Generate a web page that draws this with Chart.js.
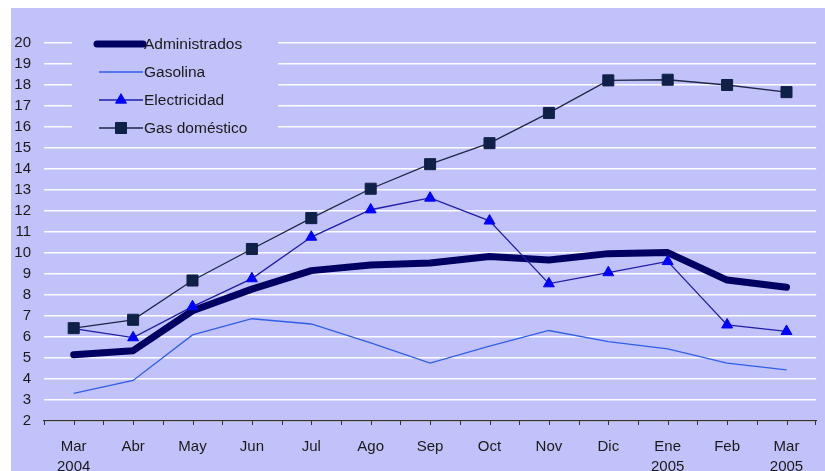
<!DOCTYPE html>
<html>
<head>
<meta charset="utf-8">
<script src="https://cdn.jsdelivr.net/npm/chart.js@4"></script>
<style>
  body { margin: 0; background: #ffffff; }
  .chartWrapper {
    position: absolute;
    left: 11px;
    top: 8px;
    width: 814px;
    height: 463px;
    background: rgb(194, 194, 250);
  }
</style>
</head>
<body>
<div class="chartWrapper">
  <canvas id="myChart" width="814" height="463"></canvas>
</div>
<script>
const months = ['Mar', 'Abr', 'May', 'Jun', 'Jul', 'Ago', 'Sep', 'Oct', 'Nov', 'Dic', 'Ene', 'Feb', 'Mar'];
const years = ['2004', '', '', '', '', '', '', '', '', '', '2005', '', '2005'];

const administrados = [5.15, 5.35, 7.25, 8.28, 9.16, 9.43, 9.52, 9.83, 9.67, 9.97, 10.02, 8.71, 8.37];
const gasolina = [3.32, 3.93, 6.1, 6.87, 6.62, 5.72, 4.76, 5.57, 6.31, 5.78, 5.43, 4.76, 4.43];
const electricidad = [6.4, 5.97, 7.45, 8.78, 10.76, 12.06, 12.62, 11.53, 8.54, 9.07, 9.6, 6.58, 6.27];
const gasDomestico = [6.42, 6.82, 8.69, 10.19, 11.66, 13.06, 14.23, 15.23, 16.67, 18.22, 18.25, 18.0, 17.66];

const yTicks = { min: 2, max: 20, step: 1 };

const fontFamily = '"Liberation Sans", Arial, sans-serif';
const textColor = '#1a1a1a';
const plotColor = 'rgb(194, 194, 250)';

// x labels: month on the first line, year below where there is one
const xLabels = months.map((m, i) => years[i] ? [m, years[i]] : m);

// small tick marks under the axis, at each month and between months
const axisTicksPlugin = {
  id: 'axisTicks',
  afterDraw(chart) {
    const xScale = chart.scales.x;
    const ctx = chart.ctx;
    const bottom = chart.chartArea.bottom;
    const half = (xScale.getPixelForValue(1) - xScale.getPixelForValue(0)) / 2;
    ctx.save();
    ctx.strokeStyle = '#333333';
    ctx.lineWidth = 1;
    ctx.beginPath();
    for (let i = 0; i < months.length; i += 1) {
      const x = xScale.getPixelForValue(i);
      [x - half, x].forEach((tx) => {
        ctx.moveTo(Math.round(tx) + 0.5, bottom);
        ctx.lineTo(Math.round(tx) + 0.5, bottom + 4);
      });
    }
    const lastX = xScale.getPixelForValue(months.length - 1) + half;
    ctx.moveTo(Math.round(lastX) - 0.5, bottom);
    ctx.lineTo(Math.round(lastX) - 0.5, bottom + 4);
    ctx.stroke();
    ctx.restore();
  }
};

// legend box sitting inside the plot, top left
const insideLegendPlugin = {
  id: 'insideLegend',
  beforeDatasetsDraw(chart) {
    const ctx = chart.ctx;
    const box = { x: 61, y: 22, w: 206, h: 112 };
    const rowY = [36, 64, 92, 120];
    const lineFrom = 88;
    const lineTo = 132;
    ctx.save();
    ctx.fillStyle = plotColor;
    ctx.fillRect(box.x, box.y, box.w, box.h);

    chart.data.datasets.forEach((ds, index) => {
      const y = rowY[index];
      ctx.beginPath();
      ctx.strokeStyle = ds.borderColor;
      ctx.lineWidth = ds.borderWidth;
      ctx.lineCap = index === 0 ? 'round' : 'butt';
      ctx.moveTo(index === 0 ? lineFrom - 2 : lineFrom, y);
      ctx.lineTo(lineTo, y);
      ctx.stroke();
      if (ds.pointRadius > 0) {
        ctx.fillStyle = ds.pointBackgroundColor;
        ctx.strokeStyle = ds.pointBorderColor;
        ctx.lineWidth = 1;
        Chart.helpers.drawPoint(ctx, {
          pointStyle: ds.pointStyle,
          radius: ds.pointRadius,
          rotation: 0,
          borderWidth: 1
        }, (lineFrom + lineTo) / 2, y);
      }
      ctx.fillStyle = textColor;
      ctx.font = '15.5px ' + fontFamily;
      ctx.textBaseline = 'middle';
      ctx.textAlign = 'left';
      ctx.fillText(ds.label, lineTo + 1, y + 1);
    });
    ctx.restore();
  }
};

function chartIt() {
  const ctx = document.getElementById('myChart').getContext('2d');

  const datasetsArr = [
    {
      label: 'Administrados',
      data: administrados,
      borderColor: '#000063',
      borderWidth: 7,
      borderCapStyle: 'round',
      borderJoinStyle: 'round',
      pointRadius: 0,
      order: 4
    },
    {
      label: 'Gasolina',
      data: gasolina,
      borderColor: '#2f5fe6',
      borderWidth: 1.3,
      pointRadius: 0,
      order: 3
    },
    {
      label: 'Electricidad',
      data: electricidad,
      borderColor: '#1e1ea6',
      borderWidth: 1.3,
      pointStyle: 'triangle',
      pointRadius: 6.3,
      pointBackgroundColor: '#0000ff',
      pointBorderColor: '#0000ff',
      pointBorderWidth: 1,
      order: 2
    },
    {
      label: 'Gas doméstico',
      data: gasDomestico,
      borderColor: '#1d2747',
      borderWidth: 1.3,
      pointStyle: 'rect',
      pointRadius: 7.8,
      pointBackgroundColor: '#0f2147',
      pointBorderColor: '#0f2147',
      pointBorderWidth: 1,
      order: 1
    }
  ];

  return new Chart(ctx, {
    type: 'line',
    data: {
      labels: xLabels,
      datasets: datasetsArr
    },
    plugins: [insideLegendPlugin, axisTicksPlugin],
    options: {
      responsive: false,
      animation: false,
      layout: { padding: { top: 35, right: 1, left: 0, bottom: 0 } },
      plugins: {
        legend: { display: false },
        tooltip: { enabled: false }
      },
      scales: {
        x: {
          offset: true,
          grid: { display: false },
          border: { display: true, color: '#333333', width: 1.2 },
          ticks: {
            color: textColor,
            padding: 8,
            maxRotation: 0,
            autoSkip: false,
            font: { family: fontFamily, size: 15, lineHeight: 1.33 }
          },
          afterFit(scale) { scale.height = 50; }
        },
        y: {
          min: yTicks.min,
          max: yTicks.max,
          grid: {
            color: 'rgba(255,255,255,0.95)',
            lineWidth: 1.6,
            drawTicks: false
          },
          border: { display: false },
          ticks: {
            stepSize: yTicks.step,
            color: textColor,
            padding: 13,
            font: { family: fontFamily, size: 15 }
          },
          afterFit(scale) { scale.width = 33; }
        }
      }
    }
  });
}

chartIt();
</script>
</body>
</html>
